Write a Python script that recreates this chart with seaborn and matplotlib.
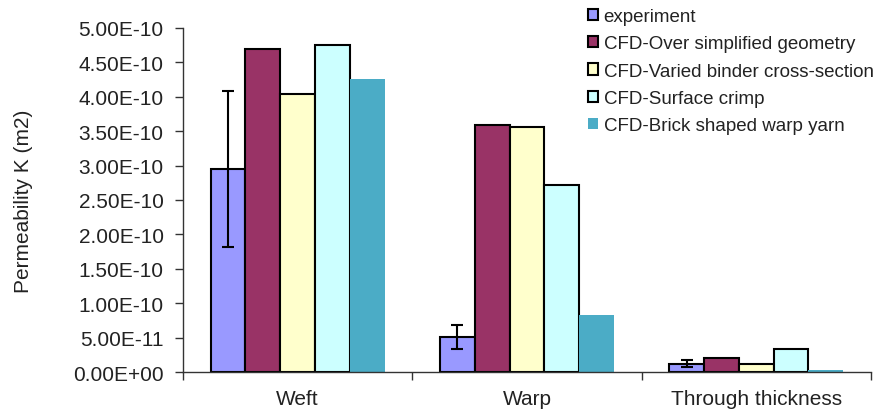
import matplotlib
matplotlib.use("Agg")
import matplotlib.pyplot as plt
import matplotlib.ticker as mticker
import pandas as pd
import seaborn as sns

# Data
directions = ["Weft", "Warp", "Through thickness"]
methods = ["experiment", "CFD-Over simplified geometry", "CFD-Varied binder cross-section",
           "CFD-Surface crimp", "CFD-Brick shaped warp yarn"]
experiment = [2.95e-10, 0.51e-10, 0.12e-10]
over_simplified = [4.69e-10, 3.59e-10, 0.20e-10]
varied_binder = [4.04e-10, 3.56e-10, 0.11e-10]
surface_crimp = [4.75e-10, 2.72e-10, 0.34e-10]
brick_shaped = [4.26e-10, 0.83e-10, 0.03e-10]
exp_low = [1.82e-10, 0.33e-10, 0.07e-10]
exp_high = [4.09e-10, 0.68e-10, 0.17e-10]

colors = ["#9999FF", "#993366", "#FFFFCC", "#CCFFFF", "#4BACC6"]
edges = ["black", "black", "black", "black", "none"]

rows = []
for m, vals in zip(methods, [experiment, over_simplified, varied_binder, surface_crimp, brick_shaped]):
    for d, v in zip(directions, vals):
        rows.append({"direction": d, "method": m, "K": v})
df = pd.DataFrame(rows)

sns.set_style("white")
plt.rcParams["font.family"] = ["Liberation Sans", "DejaVu Sans"]

fig = plt.figure(figsize=(8.77, 4.14), dpi=100)
ax = fig.add_axes([0.2087, 0.099, 0.7843, 0.831])

sns.barplot(data=df, x="direction", y="K", hue="method", order=directions,
            hue_order=methods, palette=colors, width=0.76, errorbar=None,
            saturation=1, ax=ax)

for cont, ec in zip(ax.containers, edges):
    for p in cont:
        p.set_edgecolor(ec)
        p.set_linewidth(1.5 if ec != "none" else 0)

# error bars on the experiment bars
exp_bars = ax.containers[0]
xs = [p.get_x() + p.get_width() / 2 for p in exp_bars]
yerr = [[v - lo for v, lo in zip(experiment, exp_low)],
        [hi - v for v, hi in zip(experiment, exp_high)]]
ax.errorbar(xs, experiment, yerr=yerr, fmt="none", ecolor="black",
            elinewidth=1.5, capsize=4.3, capthick=1.5, zorder=5)

ax.set_ylim(0, 5e-10)
ax.set_xlim(-0.5, 2.5)
ax.yaxis.set_major_locator(mticker.MultipleLocator(0.5e-10))
ax.yaxis.set_major_formatter(mticker.FuncFormatter(lambda v, pos: f"{v:.2E}"))
ax.set_xticks([-0.5, 0.5, 1.5, 2.5])
ax.set_xticklabels([])
ax.set_xticks([0, 1, 2], minor=True)
ax.set_xticklabels(directions, minor=True)
ax.tick_params(axis="x", which="major", direction="out", length=6, width=1, color="#333333", bottom=True)
ax.tick_params(axis="x", which="minor", length=0, pad=12, labelsize=15, labelcolor="#222222")
ax.tick_params(axis="y", direction="out", length=6, width=1, color="#333333", left=True,
               labelsize=15, pad=8, labelcolor="#222222")

for s in ["top", "right"]:
    ax.spines[s].set_visible(False)
for s in ["left", "bottom"]:
    ax.spines[s].set_color("#333333")
    ax.spines[s].set_linewidth(1)

ax.set_xlabel("")
ax.set_ylabel("Permeability K (m2)", fontsize=15, labelpad=29, color="#222222")

handles, labels = ax.get_legend_handles_labels()
for h, ec in zip(handles, edges):
    h.set_edgecolor(ec)
    h.set_linewidth(1.5 if ec != "none" else 0)
ax.legend(handles, labels, loc="upper left", bbox_to_anchor=(0.668, 0.983),
          bbox_transform=fig.transFigure, frameon=False, fontsize=13.5,
          handlelength=0.55, handleheight=0.55, handletextpad=0.3,
          labelspacing=0.55, borderaxespad=0, borderpad=0.1, labelcolor="#222222")

fig.savefig("out.png", dpi=100)
